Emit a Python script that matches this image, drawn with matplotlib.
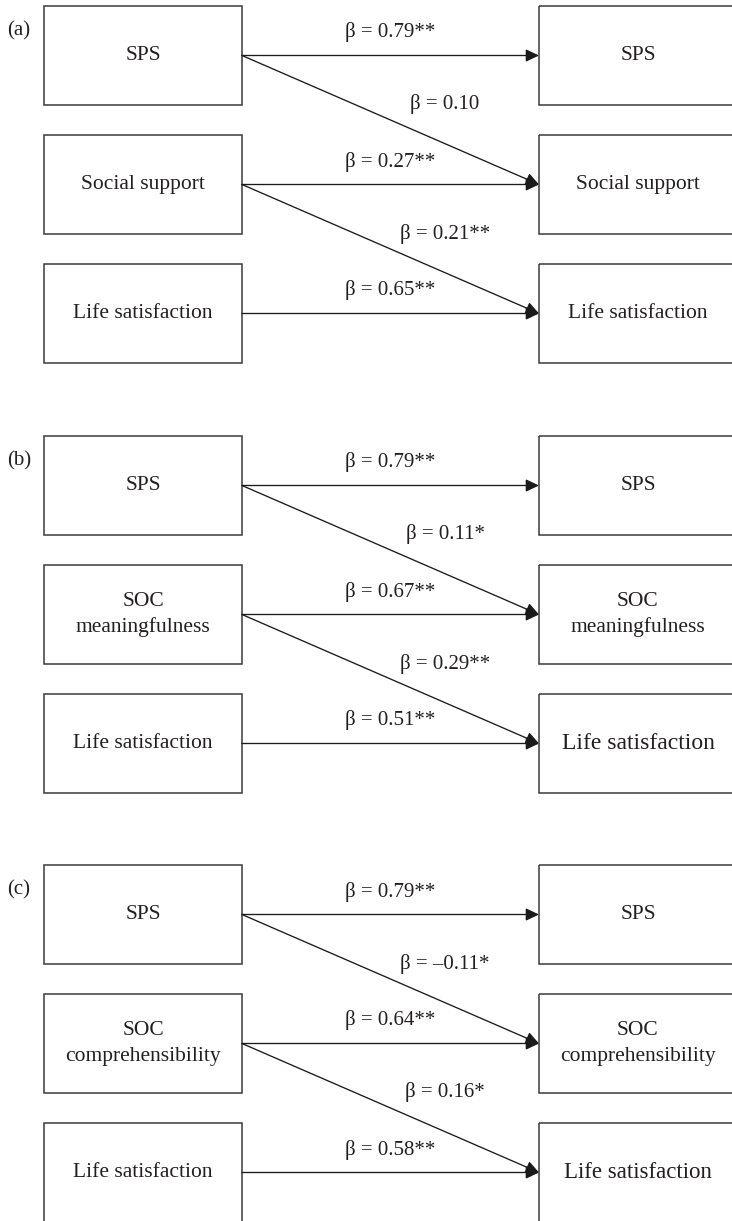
import matplotlib
matplotlib.use('Agg')
import matplotlib.pyplot as plt
from matplotlib.patches import Rectangle

# Данные: названия узлов и коэффициенты путей для трёх моделей
panel_labels = ['(a)', '(b)', '(c)']
nodes_a = ['SPS', 'Social support', 'Life satisfaction']
nodes_b = ['SPS', 'SOC\nmeaningfulness', 'Life satisfaction']
nodes_c = ['SPS', 'SOC\ncomprehensibility', 'Life satisfaction']
stability_a = ['0.79**', '0.27**', '0.65**']
stability_b = ['0.79**', '0.67**', '0.51**']
stability_c = ['0.79**', '0.64**', '0.58**']
cross_a = ['0.10', '0.21**']
cross_b = ['0.11*', '0.29**']
cross_c = ['–0.11*', '0.16*']

panels = [
    (nodes_a, stability_a, cross_a),
    (nodes_b, stability_b, cross_b),
    (nodes_c, stability_c, cross_c),
]

# Геометрия в пикселях (оси = пиксели картинки)
W, H = 732, 1221
panel_top = [6, 436, 865]
row_step = 129
box_h = 99
left_x0, left_x1 = 44, 242
right_x0, right_x1 = 539, 737
cross_label_x = 445
# размер шрифта правой "Life satisfaction" по панелям
right_life_size = [15.5, 17, 16.5]

FONT = ['Liberation Serif', 'DejaVu Serif']
TXT = '#231f20'
EDGE = '#3a3a3a'

fig = plt.figure(figsize=(W / 100, H / 100), dpi=100)
ax = fig.add_axes([0, 0, 1, 1])
ax.set_xlim(0, W)
ax.set_ylim(H, 0)
ax.axis('off')

arrow_kw = dict(arrowstyle='-|>,head_length=0.8,head_width=0.38',
                color='#1a1a1a', lw=0.95, shrinkA=0, shrinkB=0,
                mutation_scale=10)


def draw_box(x0, x1, y0, text, size=15.5):
    ax.add_patch(Rectangle((x0, y0), x1 - x0, box_h, fill=False,
                           edgecolor=EDGE, lw=1.1, clip_on=True))
    ax.text((x0 + x1) / 2, y0 + box_h / 2, text, ha='center', va='center',
            fontsize=size, family=FONT, color=TXT, linespacing=1.45)


for p, (nodes, stab, cross) in enumerate(panels):
    top = panel_top[p]
    ax.text(7, top + 25, panel_labels[p], ha='left', va='center',
            fontsize=15, family=FONT, color=TXT)
    mids = []
    for i, name in enumerate(nodes):
        y0 = top + i * row_step
        mids.append(y0 + box_h / 2)
        draw_box(left_x0, left_x1, y0, name)
        size = right_life_size[p] if i == 2 else 15.5
        draw_box(right_x0, right_x1, y0, name, size)

    # стабильность (горизонтальные стрелки)
    for i, val in enumerate(stab):
        y = mids[i]
        ax.annotate('', xy=(right_x0, y), xytext=(left_x1, y),
                    arrowprops=arrow_kw)
        ax.text((left_x1 + right_x0) / 2, y - 23, 'β = ' + val,
                ha='center', va='center', fontsize=15, family=FONT, color=TXT)

    # перекрёстные пути (диагональные стрелки)
    for i, val in enumerate(cross):
        ax.annotate('', xy=(right_x0, mids[i + 1]), xytext=(left_x1, mids[i]),
                    arrowprops=arrow_kw)
        ax.text(cross_label_x, mids[i] + 49, 'β = ' + val,
                ha='center', va='center', fontsize=15, family=FONT, color=TXT)

fig.savefig('out.png', dpi=100)
